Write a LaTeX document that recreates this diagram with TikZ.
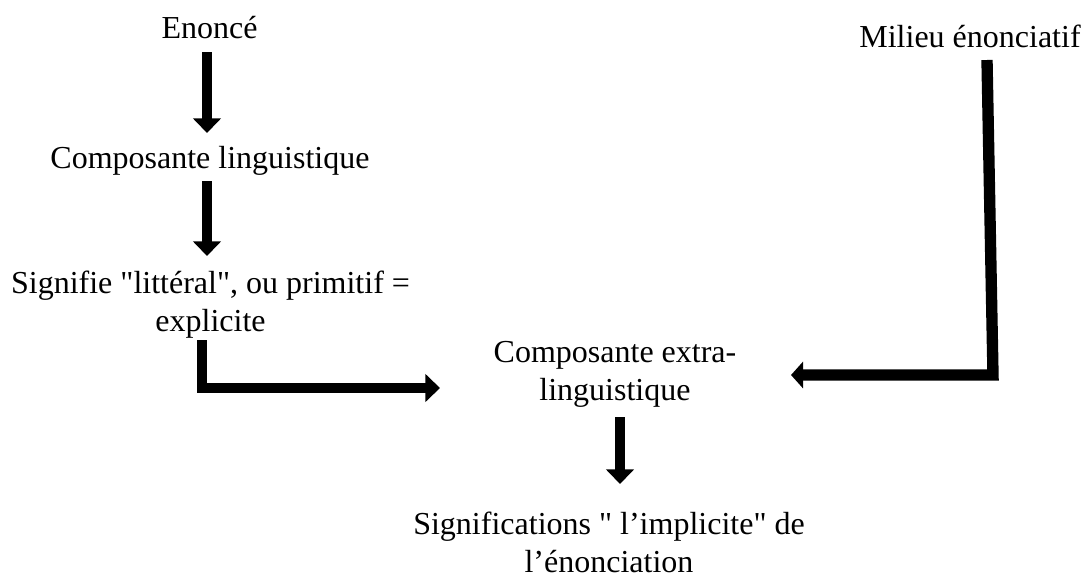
\documentclass[tikz,border=0pt]{standalone}
\usepackage{fontspec}
\setmainfont{Liberation Serif}[Ligatures=TeXOff]
\usetikzlibrary{arrows.meta,calc}
\begin{document}
\begin{tikzpicture}[x=0.75pt,y=-0.75pt,
  label/.style={inner sep=0pt,anchor=base,align=center,
    font=\fontsize{24}{28}\selectfont},
  thick arrow/.style={line width=7.5pt,line join=miter,
    -{Triangle[width=20.5pt,length=11pt]}},
  wide arrow/.style={line width=8.5pt,line join=miter,
    -{Triangle[width=19.5pt,length=9pt]}}]
\useasboundingbox (0,0) rectangle (1085,578);

% text blocks (base = baseline of the last line)
\node[label] (enonce) at (209.5,38) {Enoncé};
\node[label] (ling)   at (210,168) {Composante linguistique};
\node[label] (sig)    at (210.5,331) {Signifie "littéral", ou primitif =\\explicite};
\node[label] (milieu) at (970,47) {Milieu énonciatif};
\node[label] (extra)  at (615,400) {Composante extra-\\linguistique};
\node[label] (impl)   at (609,572) {Significations " l’implicite" de\\l’énonciation};

% connectors
\draw[thick arrow] ($(enonce.base)+(-2.5,14)$) -- ($(ling.base)+(-3,-35)$);
\draw[thick arrow] ($(ling.base)+(-3,13)$) -- ($(sig.base)+(-3.5,-75)$);
\draw[thick arrow] ($(sig.base)+(-8.5,9)$) |- ($(extra.base)+(-175,-12)$);
\draw[wide arrow]  ($(milieu.base)+(17,13)$) -- ($(extra.base)+(378,-25)$)
                   -- ($(extra.base)+(176,-25)$);
\draw[thick arrow] ($(extra.base)+(5,17)$) -- ($(impl.base)+(11,-88)$);
\end{tikzpicture}
\end{document}
